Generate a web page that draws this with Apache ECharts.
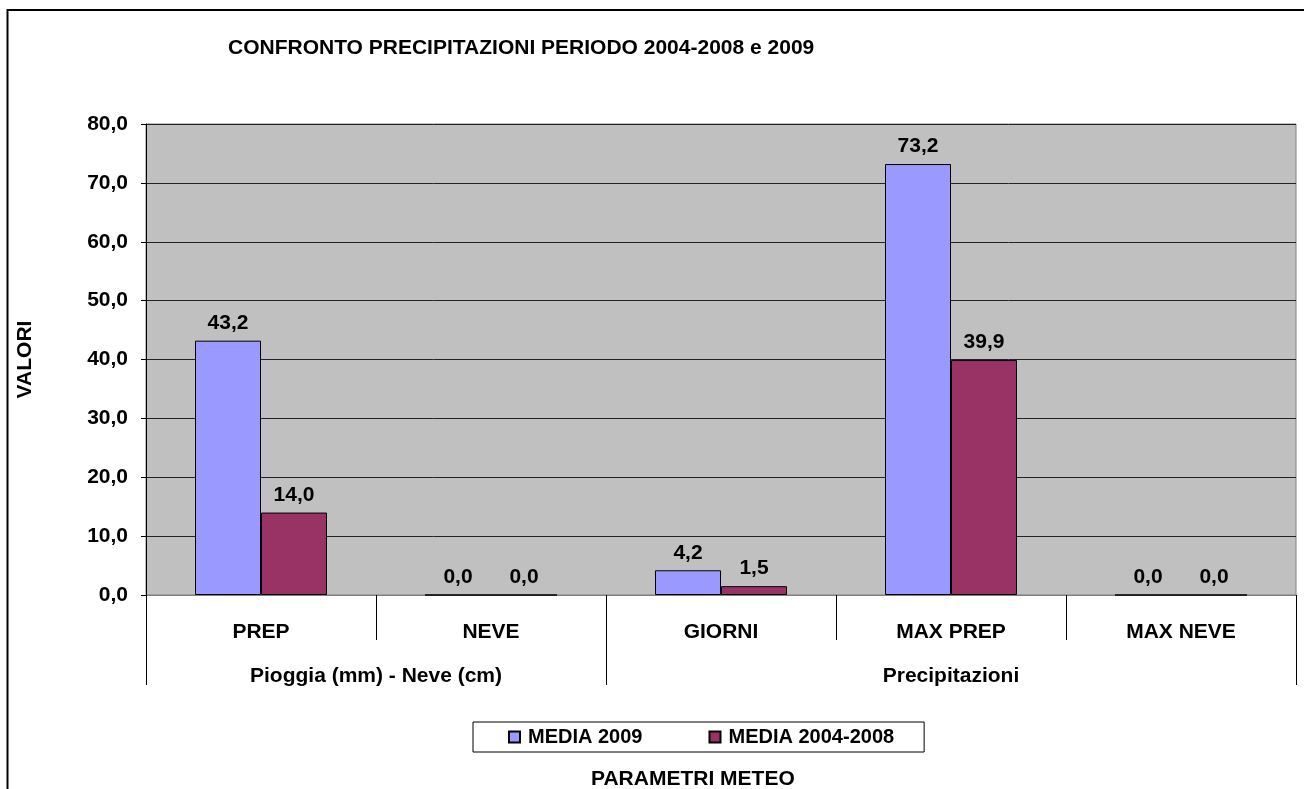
<!DOCTYPE html>
<html>
<head>
<meta charset="utf-8">
<script src="https://cdn.jsdelivr.net/npm/echarts@6/dist/echarts.min.js"></script>
<style>html,body{margin:0;padding:0;background:#fff}#c{width:1304px;height:789px}</style>
</head>
<body>
<div id="c"></div>
<script>
const categories = ['PREP', 'NEVE', 'GIORNI', 'MAX PREP', 'MAX NEVE'];
const groupLabels = ['Pioggia (mm) - Neve (cm)', 'Precipitazioni'];
const groupCenters = [1, 3.5];
const groupBounds = [0, 2, 5];
const media2009 = [43.2, 0.0, 4.2, 73.2, 0.0];
const media20042008 = [14.0, 0.0, 1.5, 39.9, 0.0];
const seriesNames = ['MEDIA 2009', 'MEDIA 2004-2008'];

const FONT = 'Liberation Sans, Arial, sans-serif';
const FS = 21;
const fmt = v => Number(v).toFixed(1).replace('.', ',');

const chart = echarts.init(document.getElementById('c'), null, {renderer: 'canvas'});
chart.setOption({
  animation: false,
  backgroundColor: '#ffffff',
  textStyle: {fontFamily: FONT, color: '#000'},
  graphic: [{
    type: 'rect', z: -10, silent: true,
    shape: {x: 7.5, y: 10, width: 1400, height: 1000},
    style: {fill: 'none', stroke: '#000', lineWidth: 2}
  }],
  title: [{
    text: 'CONFRONTO PRECIPITAZIONI PERIODO 2004-2008 e 2009',
    left: 228, top: 38, padding: 0,
    textStyle: {fontFamily: FONT, fontSize: FS, fontWeight: 'bold', color: '#000'}
  }, {
    text: 'PARAMETRI METEO',
    left: 591, top: 769, padding: 0,
    textStyle: {fontFamily: FONT, fontSize: FS, fontWeight: 'bold', color: '#000'}
  }],
  legend: {
    left: 473, top: 722,
    padding: [5, 30, 5, 35],
    itemGap: 66,
    itemWidth: 11, itemHeight: 11,
    icon: 'rect',
    borderColor: '#000', borderWidth: 1,
    textStyle: {fontFamily: FONT, fontSize: 20, fontWeight: 'bold', color: '#000', padding: [0, 0, 0, 3]},
    data: seriesNames
  },
  grid: {
    left: 146, right: 8, top: 124, bottom: 194,
    show: true, backgroundColor: '#C0C0C0', borderColor: '#808080', borderWidth: 1
  },
  xAxis: [{
    type: 'category',
    data: categories,
    position: 'bottom',
    axisLine: {show: true, lineStyle: {color: '#808080', width: 1}},
    axisTick: {show: true, interval: 0, length: 45, alignWithLabel: false, lineStyle: {color: '#000'}},
    axisLabel: {interval: 0, margin: 27, fontFamily: FONT, fontSize: FS, fontWeight: 'bold', color: '#000'},
    splitLine: {show: false}
  }, {
    type: 'value',
    min: 0, max: 5,
    position: 'bottom',
    offset: 45,
    axisLine: {show: false},
    axisTick: {show: true, customValues: groupBounds, length: 45, lineStyle: {color: '#000'}},
    axisLabel: {
      customValues: groupCenters, margin: 26,
      fontFamily: FONT, fontSize: FS, fontWeight: 'bold', color: '#000',
      formatter: v => groupLabels[groupCenters.indexOf(v)] || ''
    },
    splitLine: {show: false}
  }],
  yAxis: {
    type: 'value',
    min: 0, max: 80, interval: 10,
    axisLine: {show: true, lineStyle: {color: '#000'}},
    axisTick: {show: true, length: 5, lineStyle: {color: '#000'}},
    axisLabel: {margin: 18, fontFamily: FONT, fontSize: FS, fontWeight: 'bold', color: '#000', formatter: fmt},
    splitLine: {show: true, lineStyle: {color: '#222', width: 1}},
    name: 'VALORI',
    nameLocation: 'middle',
    nameRotate: 90,
    nameGap: 110,
    nameTextStyle: {fontFamily: FONT, fontSize: FS, fontWeight: 'bold', color: '#000'}
  },
  series: [{
    name: seriesNames[0],
    type: 'bar',
    xAxisIndex: 0,
    data: media2009,
    barWidth: 66,
    barGap: '0%',
    itemStyle: {color: '#9999FF', borderColor: '#000', borderWidth: 1},
    label: {show: true, position: 'top', distance: 7, formatter: p => fmt(p.value),
      fontFamily: FONT, fontSize: FS, fontWeight: 'bold', color: '#000'}
  }, {
    name: seriesNames[1],
    type: 'bar',
    xAxisIndex: 0,
    data: media20042008,
    barWidth: 66,
    barGap: '0%',
    itemStyle: {color: '#993366', borderColor: '#000', borderWidth: 1},
    label: {show: true, position: 'top', distance: 7, formatter: p => fmt(p.value),
      fontFamily: FONT, fontSize: FS, fontWeight: 'bold', color: '#000'}
  }]
});
</script>
</body>
</html>
